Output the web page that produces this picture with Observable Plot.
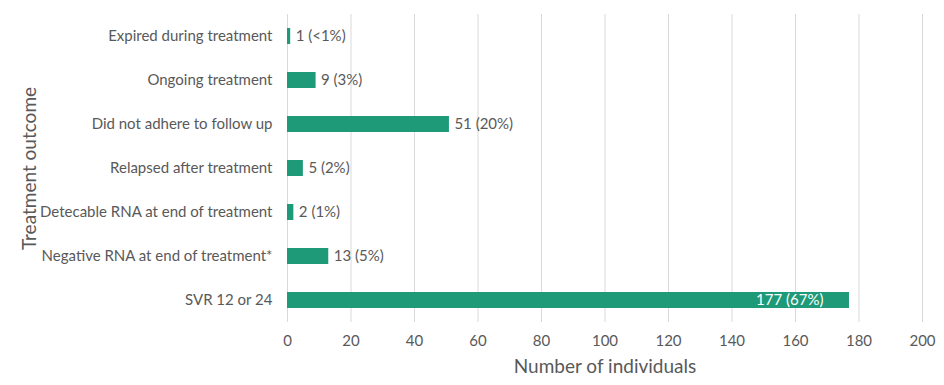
<!DOCTYPE html>
<html><head><meta charset="utf-8">
<script src="https://cdn.jsdelivr.net/npm/d3@7"></script>
<script src="https://cdn.jsdelivr.net/npm/@observablehq/plot@0.6"></script>
<style>
body{margin:0;background:#fff;}
svg{font-family:Lato,"Open Sans",sans-serif;}
</style>
</head><body>
<div id="chart"></div>
<script>
const outcomes = ["Expired during treatment","Ongoing treatment","Did not adhere to follow up","Relapsed after treatment","Detecable RNA at end of treatment","Negative RNA at end of treatment*","SVR 12 or 24"];
const counts = [1, 9, 51, 5, 2, 13, 177];
const labels = ["1 (<1%)","9 (3%)","51 (20%)","5 (2%)","2 (1%)","13 (5%)","177 (67%)"];
const xTicks = [0,20,40,60,80,100,120,140,160,180,200];

const data = outcomes.map((o,i)=>({outcome:o, n:counts[i], label:labels[i], inside: counts[i] > 150}));
const green = "#1e9a78";

const chart = Plot.plot({
  width: 944,
  height: 385,
  marginLeft: 287,
  marginRight: 22,
  marginTop: 14,
  marginBottom: 63,
  style: {fontSize: "15px", color: "#595959"},
  x: {domain:[0,200], ticks: xTicks},
  y: {domain: outcomes, paddingInner: 0.64, paddingOuter: 0.32},
  marks: [
    Plot.gridX(xTicks, {stroke: "#d9d9d9", strokeOpacity: 1, strokeWidth: 1}),
    Plot.barX(data, {x: "n", y: "outcome", fill: green}),
    Plot.text(data.filter(d=>!d.inside), {x: "n", y: "outcome", text: "label", textAnchor: "start", dx: 5, fill: "#595959", fontSize: 15}),
    Plot.text(data.filter(d=>d.inside), {x: "n", y: "outcome", text: "label", textAnchor: "end", dx: -26, fill: "#ffffff", fontSize: 15}),
    Plot.axisX({ticks: xTicks, tickSize: 0, tickPadding: 13, label: "Number of individuals", labelAnchor: "center", labelArrow: "none", labelOffset: 50, fontSize: 15}),
    Plot.axisY({tickSize: 0, tickPadding: 15, label: "Treatment outcome", labelAnchor: "center", labelArrow: "none", labelOffset: 265, fontSize: 15})
  ]
});
document.getElementById("chart").appendChild(chart);
chart.querySelectorAll("[aria-label='x-axis label'] text, [aria-label='y-axis label'] text").forEach(t=>{t.style.fontSize="19px";});
</script>
</body></html>
